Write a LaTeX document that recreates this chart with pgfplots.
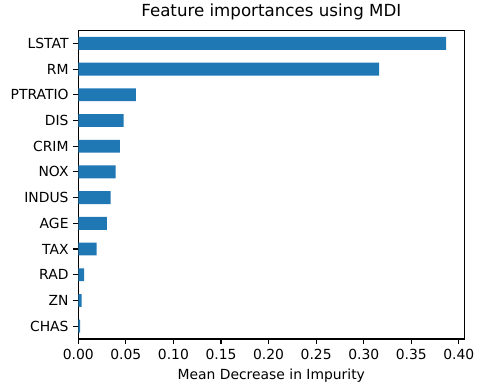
\documentclass[border=0pt]{standalone}
\usepackage{pgfplots}
\pgfplotsset{compat=1.18}
\usepackage{fontspec}
\setmainfont{DejaVu Sans}
\definecolor{mplblue}{HTML}{1F77B4}
\pgfplotstableread{
idx name value
0 CHAS 0.0018
1 ZN 0.0036
2 RAD 0.0060
3 TAX 0.0193
4 AGE 0.0301
5 INDUS 0.0340
6 NOX 0.0392
7 CRIM 0.0437
8 DIS 0.0476
9 PTRATIO 0.0605
10 RM 0.3162
11 LSTAT 0.3865
}\imp
\begin{document}
\begin{tikzpicture}[x=0.72pt,y=0.72pt]
\path[use as bounding box] (-78.3,-52) rectangle (404.7,339);
\begin{axis}[
  at={(0,0)}, anchor=south west,
  scale only axis,
  width=277.9pt, height=222.1pt,
  xmin=0, xmax=0.4057,
  ymin=-0.5, ymax=11.5,
  xbar, bar width=0.5,
  bar shift=0pt,
  ytick={0,...,11},
  yticklabels={CHAS,ZN,RAD,TAX,AGE,INDUS,NOX,CRIM,DIS,PTRATIO,RM,LSTAT},
  xtick={0,0.05,...,0.4001},
  xticklabel style={/pgf/number format/.cd,fixed,fixed zerofill,precision=2},
  /pgf/number format/assume math mode=true,
  tick align=outside,
  major tick length=3.5pt,
  tick style={black, line width=0.8pt},
  axis line style={line width=0.8pt},
  every tick label/.append style={font=\fontsize{10}{12}\selectfont},
  title={Feature importances using MDI},
  title style={font=\fontsize{12}{14}\selectfont, yshift=-2pt},
  xlabel={Mean Decrease in Impurity},
  xlabel style={font=\fontsize{10}{12}\selectfont},
  xtick pos=bottom, ytick pos=left,
]
\addplot[fill=mplblue, draw=none] table[x=value, y=idx] {\imp};
\end{axis}
\end{tikzpicture}
\end{document}
